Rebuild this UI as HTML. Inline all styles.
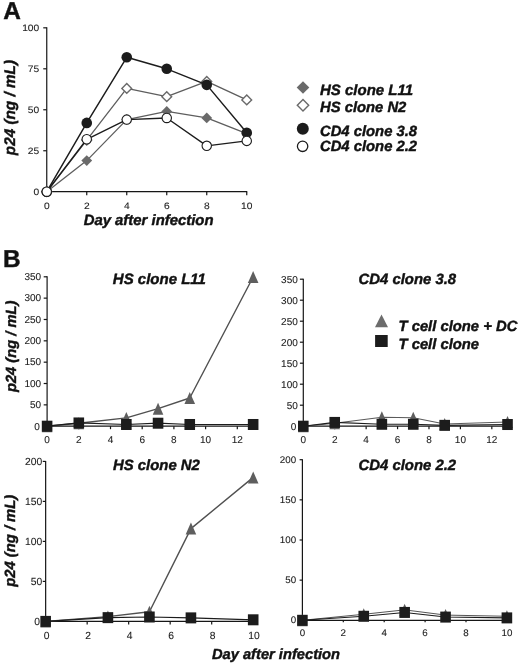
<!DOCTYPE html>
<html>
<head>
<meta charset="utf-8">
<title>Figure</title>
<style>
html,body{margin:0;padding:0;background:#fff;}
body{width:520px;height:664px;overflow:hidden;font-family:'Liberation Sans', sans-serif;}
svg{display:block;opacity:0.999;will-change:transform;text-rendering:geometricPrecision;font-family:'Liberation Sans', sans-serif;}
</style>
</head>
<body>
<svg width="520" height="664" viewBox="0 0 520 664">
<rect width="520" height="664" fill="#ffffff"/>
<text x="3.2" y="19.3" font-size="24.4" text-anchor="start" font-weight="bold" font-style="normal" fill="#111"  stroke="#111" stroke-width="0.42">A</text>
<line x1="46.75" y1="27.32" x2="46.75" y2="192.22" stroke="#161616" stroke-width="1.2"/>
<line x1="46.25" y1="191.72" x2="247.25" y2="191.72" stroke="#161616" stroke-width="1.2"/>
<line x1="43.25" y1="191.72" x2="46.75" y2="191.72" stroke="#161616" stroke-width="1.2"/>
<text transform="translate(39.25,195.22) scale(1.09,1)" font-size="9.4" text-anchor="end" font-weight="normal" font-style="normal" fill="#222"  stroke="#222" stroke-width="0.1">0</text>
<line x1="43.25" y1="150.75" x2="46.75" y2="150.75" stroke="#161616" stroke-width="1.2"/>
<text transform="translate(39.25,154.25) scale(1.09,1)" font-size="9.4" text-anchor="end" font-weight="normal" font-style="normal" fill="#222"  stroke="#222" stroke-width="0.1">25</text>
<line x1="43.25" y1="109.77" x2="46.75" y2="109.77" stroke="#161616" stroke-width="1.2"/>
<text transform="translate(39.25,113.27) scale(1.09,1)" font-size="9.4" text-anchor="end" font-weight="normal" font-style="normal" fill="#222"  stroke="#222" stroke-width="0.1">50</text>
<line x1="43.25" y1="68.8" x2="46.75" y2="68.8" stroke="#161616" stroke-width="1.2"/>
<text transform="translate(39.25,72.3) scale(1.09,1)" font-size="9.4" text-anchor="end" font-weight="normal" font-style="normal" fill="#222"  stroke="#222" stroke-width="0.1">75</text>
<line x1="43.25" y1="27.82" x2="46.75" y2="27.82" stroke="#161616" stroke-width="1.2"/>
<text transform="translate(39.25,31.32) scale(1.09,1)" font-size="9.4" text-anchor="end" font-weight="normal" font-style="normal" fill="#222"  stroke="#222" stroke-width="0.1">100</text>
<line x1="46.75" y1="191.72" x2="46.75" y2="195.22" stroke="#161616" stroke-width="1.2"/>
<text transform="translate(46.75,208.9) scale(1.09,1)" font-size="9.4" text-anchor="middle" font-weight="normal" font-style="normal" fill="#222"  stroke="#222" stroke-width="0.1">0</text>
<line x1="86.75" y1="191.72" x2="86.75" y2="195.22" stroke="#161616" stroke-width="1.2"/>
<text transform="translate(86.75,208.9) scale(1.09,1)" font-size="9.4" text-anchor="middle" font-weight="normal" font-style="normal" fill="#222"  stroke="#222" stroke-width="0.1">2</text>
<line x1="126.75" y1="191.72" x2="126.75" y2="195.22" stroke="#161616" stroke-width="1.2"/>
<text transform="translate(126.75,208.9) scale(1.09,1)" font-size="9.4" text-anchor="middle" font-weight="normal" font-style="normal" fill="#222"  stroke="#222" stroke-width="0.1">4</text>
<line x1="166.75" y1="191.72" x2="166.75" y2="195.22" stroke="#161616" stroke-width="1.2"/>
<text transform="translate(166.75,208.9) scale(1.09,1)" font-size="9.4" text-anchor="middle" font-weight="normal" font-style="normal" fill="#222"  stroke="#222" stroke-width="0.1">6</text>
<line x1="206.75" y1="191.72" x2="206.75" y2="195.22" stroke="#161616" stroke-width="1.2"/>
<text transform="translate(206.75,208.9) scale(1.09,1)" font-size="9.4" text-anchor="middle" font-weight="normal" font-style="normal" fill="#222"  stroke="#222" stroke-width="0.1">8</text>
<line x1="246.75" y1="191.72" x2="246.75" y2="195.22" stroke="#161616" stroke-width="1.2"/>
<text transform="translate(246.75,208.9) scale(1.09,1)" font-size="9.4" text-anchor="middle" font-weight="normal" font-style="normal" fill="#222"  stroke="#222" stroke-width="0.1">10</text>
<text x="148.6" y="225.2" font-size="14.9" text-anchor="middle" font-weight="bold" font-style="italic" fill="#111"  stroke="#111" stroke-width="0.42">Day after infection</text>
<text transform="translate(15.3,107.6) rotate(-90)" font-size="15.3" text-anchor="middle" font-weight="bold" font-style="italic" fill="#111" stroke="#111" stroke-width="0.42">p24 (ng / mL)</text>
<polyline fill="none" stroke="#5e5e5e" stroke-width="1.3" stroke-linejoin="round" points="46.75,191.72 86.75,160.58 126.75,119.6 166.75,111.41 206.75,117.97 246.75,133.54"/>
<polygon points="46.75,186.32 52.15,191.72 46.75,197.12 41.35,191.72" fill="#6a6a6a"/>
<polygon points="86.75,155.18 92.15,160.58 86.75,165.98 81.35,160.58" fill="#6a6a6a"/>
<polygon points="126.75,114.2 132.15,119.6 126.75,125 121.35,119.6" fill="#6a6a6a"/>
<polygon points="166.75,106.01 172.15,111.41 166.75,116.81 161.35,111.41" fill="#6a6a6a"/>
<polygon points="206.75,112.56 212.15,117.97 206.75,123.37 201.35,117.97" fill="#6a6a6a"/>
<polygon points="246.75,128.14 252.15,133.54 246.75,138.94 241.35,133.54" fill="#6a6a6a"/>
<polyline fill="none" stroke="#5e5e5e" stroke-width="1.3" stroke-linejoin="round" points="46.75,191.72 86.75,140.09 126.75,88.46 166.75,96.66 206.75,81.42 246.75,99.94"/>
<polygon points="46.75,186.82 51.65,191.72 46.75,196.62 41.85,191.72" fill="#fff" stroke="#6a6a6a" stroke-width="1.4"/>
<polygon points="86.75,135.19 91.65,140.09 86.75,144.99 81.85,140.09" fill="#fff" stroke="#6a6a6a" stroke-width="1.4"/>
<polygon points="126.75,83.56 131.65,88.46 126.75,93.36 121.85,88.46" fill="#fff" stroke="#6a6a6a" stroke-width="1.4"/>
<polygon points="166.75,91.76 171.65,96.66 166.75,101.56 161.85,96.66" fill="#fff" stroke="#6a6a6a" stroke-width="1.4"/>
<polygon points="206.75,76.52 211.65,81.42 206.75,86.32 201.85,81.42" fill="#fff" stroke="#6a6a6a" stroke-width="1.4"/>
<polygon points="246.75,95.04 251.65,99.94 246.75,104.84 241.85,99.94" fill="#fff" stroke="#6a6a6a" stroke-width="1.4"/>
<polyline fill="none" stroke="#1c1c1c" stroke-width="1.45" stroke-linejoin="round" points="46.75,191.72 86.75,122.88 126.75,57.32 166.75,68.8 206.75,84.86 246.75,132.72"/>
<circle cx="46.75" cy="191.72" r="5.3" fill="#1c1c1c"/>
<circle cx="86.75" cy="122.88" r="5.3" fill="#1c1c1c"/>
<circle cx="126.75" cy="57.32" r="5.3" fill="#1c1c1c"/>
<circle cx="166.75" cy="68.8" r="5.3" fill="#1c1c1c"/>
<circle cx="206.75" cy="84.86" r="5.3" fill="#1c1c1c"/>
<circle cx="246.75" cy="132.72" r="5.3" fill="#1c1c1c"/>
<polyline fill="none" stroke="#1c1c1c" stroke-width="1.35" stroke-linejoin="round" points="46.75,191.72 86.75,139.27 126.75,119.6 166.75,117.97 206.75,145.83 246.75,140.91"/>
<circle cx="46.75" cy="191.72" r="4.7" fill="#fff" stroke="#1c1c1c" stroke-width="1.1"/>
<circle cx="86.75" cy="139.27" r="4.7" fill="#fff" stroke="#1c1c1c" stroke-width="1.1"/>
<circle cx="126.75" cy="119.6" r="4.7" fill="#fff" stroke="#1c1c1c" stroke-width="1.1"/>
<circle cx="166.75" cy="117.97" r="4.7" fill="#fff" stroke="#1c1c1c" stroke-width="1.1"/>
<circle cx="206.75" cy="145.83" r="4.7" fill="#fff" stroke="#1c1c1c" stroke-width="1.1"/>
<circle cx="246.75" cy="140.91" r="4.7" fill="#fff" stroke="#1c1c1c" stroke-width="1.1"/>
<polygon points="303,81.2 309.3,87.5 303,93.8 296.7,87.5" fill="#6a6a6a"/>
<polygon points="303,99.5 308.7,105.2 303,110.9 297.3,105.2" fill="#fff" stroke="#6a6a6a" stroke-width="1.4"/>
<circle cx="302.8" cy="128.8" r="6.0" fill="#1c1c1c"/>
<circle cx="302.6" cy="146.3" r="5.2" fill="#fff" stroke="#1c1c1c" stroke-width="1.3"/>
<text x="320" y="95.1" font-size="15.0" text-anchor="start" font-weight="bold" font-style="italic" fill="#111"  stroke="#111" stroke-width="0.42">HS clone L11</text>
<text x="320" y="112" font-size="14.8" text-anchor="start" font-weight="bold" font-style="italic" fill="#111"  stroke="#111" stroke-width="0.42">HS clone N2</text>
<text x="320" y="136.3" font-size="14.8" text-anchor="start" font-weight="bold" font-style="italic" fill="#111"  stroke="#111" stroke-width="0.42">CD4 clone 3.8</text>
<text x="320" y="151.1" font-size="14.8" text-anchor="start" font-weight="bold" font-style="italic" fill="#111"  stroke="#111" stroke-width="0.42">CD4 clone 2.2</text>
<text x="3" y="267" font-size="24.4" text-anchor="start" font-weight="bold" font-style="normal" fill="#111"  stroke="#111" stroke-width="0.42">B</text>
<line x1="47.1" y1="276.3" x2="47.1" y2="426.7" stroke="#161616" stroke-width="1.2"/>
<line x1="46.6" y1="426.2" x2="253.65" y2="426.2" stroke="#161616" stroke-width="1.2"/>
<line x1="43.7" y1="426.2" x2="47.1" y2="426.2" stroke="#161616" stroke-width="1.2"/>
<text x="39.7" y="429.5" font-size="10.0" text-anchor="end" font-weight="normal" font-style="normal" fill="#222"  stroke="#222" stroke-width="0.1">0</text>
<line x1="43.7" y1="404.86" x2="47.1" y2="404.86" stroke="#161616" stroke-width="1.2"/>
<text x="41.1" y="408.16" font-size="10.0" text-anchor="end" font-weight="normal" font-style="normal" fill="#222"  stroke="#222" stroke-width="0.1">50</text>
<line x1="43.7" y1="383.51" x2="47.1" y2="383.51" stroke="#161616" stroke-width="1.2"/>
<text x="41.1" y="386.81" font-size="10.0" text-anchor="end" font-weight="normal" font-style="normal" fill="#222"  stroke="#222" stroke-width="0.1">100</text>
<line x1="43.7" y1="362.17" x2="47.1" y2="362.17" stroke="#161616" stroke-width="1.2"/>
<text x="41.1" y="365.47" font-size="10.0" text-anchor="end" font-weight="normal" font-style="normal" fill="#222"  stroke="#222" stroke-width="0.1">150</text>
<line x1="43.7" y1="340.83" x2="47.1" y2="340.83" stroke="#161616" stroke-width="1.2"/>
<text x="41.1" y="344.13" font-size="10.0" text-anchor="end" font-weight="normal" font-style="normal" fill="#222"  stroke="#222" stroke-width="0.1">200</text>
<line x1="43.7" y1="319.49" x2="47.1" y2="319.49" stroke="#161616" stroke-width="1.2"/>
<text x="41.1" y="322.79" font-size="10.0" text-anchor="end" font-weight="normal" font-style="normal" fill="#222"  stroke="#222" stroke-width="0.1">250</text>
<line x1="43.7" y1="298.14" x2="47.1" y2="298.14" stroke="#161616" stroke-width="1.2"/>
<text x="41.1" y="301.44" font-size="10.0" text-anchor="end" font-weight="normal" font-style="normal" fill="#222"  stroke="#222" stroke-width="0.1">300</text>
<line x1="43.7" y1="276.8" x2="47.1" y2="276.8" stroke="#161616" stroke-width="1.2"/>
<text x="41.1" y="280.1" font-size="10.0" text-anchor="end" font-weight="normal" font-style="normal" fill="#222"  stroke="#222" stroke-width="0.1">350</text>
<line x1="47.1" y1="426.2" x2="47.1" y2="429.2" stroke="#161616" stroke-width="1.2"/>
<text x="47.1" y="443" font-size="10.0" text-anchor="middle" font-weight="normal" font-style="normal" fill="#222"  stroke="#222" stroke-width="0.1">0</text>
<line x1="78.8" y1="426.2" x2="78.8" y2="429.2" stroke="#161616" stroke-width="1.2"/>
<text x="78.8" y="443" font-size="10.0" text-anchor="middle" font-weight="normal" font-style="normal" fill="#222"  stroke="#222" stroke-width="0.1">2</text>
<line x1="110.5" y1="426.2" x2="110.5" y2="429.2" stroke="#161616" stroke-width="1.2"/>
<text x="110.5" y="443" font-size="10.0" text-anchor="middle" font-weight="normal" font-style="normal" fill="#222"  stroke="#222" stroke-width="0.1">4</text>
<line x1="142.2" y1="426.2" x2="142.2" y2="429.2" stroke="#161616" stroke-width="1.2"/>
<text x="142.2" y="443" font-size="10.0" text-anchor="middle" font-weight="normal" font-style="normal" fill="#222"  stroke="#222" stroke-width="0.1">6</text>
<line x1="173.9" y1="426.2" x2="173.9" y2="429.2" stroke="#161616" stroke-width="1.2"/>
<text x="173.9" y="443" font-size="10.0" text-anchor="middle" font-weight="normal" font-style="normal" fill="#222"  stroke="#222" stroke-width="0.1">8</text>
<line x1="205.6" y1="426.2" x2="205.6" y2="429.2" stroke="#161616" stroke-width="1.2"/>
<text x="205.6" y="443" font-size="10.0" text-anchor="middle" font-weight="normal" font-style="normal" fill="#222"  stroke="#222" stroke-width="0.1">10</text>
<line x1="237.3" y1="426.2" x2="237.3" y2="429.2" stroke="#161616" stroke-width="1.2"/>
<text x="237.3" y="443" font-size="10.0" text-anchor="middle" font-weight="normal" font-style="normal" fill="#222"  stroke="#222" stroke-width="0.1">12</text>
<text x="112.8" y="283.8" font-size="15.0" text-anchor="start" font-weight="bold" font-style="italic" fill="#111"  stroke="#111" stroke-width="0.42">HS clone L11</text>
<polyline fill="none" stroke="#505050" stroke-width="1.4" stroke-linejoin="round" points="47.1,426.2 78.8,423.21 126.35,417.88 158.05,408.7 189.75,398.03 253.15,277.01"/>
<polygon points="47.1,420.2 52.4,432.2 41.8,432.2" fill="#5e5e5e"/>
<polygon points="78.8,417.21 84.1,429.21 73.5,429.21" fill="#5e5e5e"/>
<polygon points="126.35,411.88 131.65,423.88 121.05,423.88" fill="#5e5e5e"/>
<polygon points="158.05,402.7 163.35,414.7 152.75,414.7" fill="#5e5e5e"/>
<polygon points="189.75,392.03 195.05,404.03 184.45,404.03" fill="#5e5e5e"/>
<polygon points="253.15,271.01 258.45,283.01 247.85,283.01" fill="#5e5e5e"/>
<polyline fill="none" stroke="#1c1c1c" stroke-width="1.2" stroke-linejoin="round" points="47.1,426.2 78.8,422.96 126.35,424.49 158.05,423.21 189.75,424.49 253.15,424.49"/>
<rect x="41.8" y="420.7" width="10.6" height="11" fill="#1c1c1c"/>
<rect x="73.5" y="417.46" width="10.6" height="11" fill="#1c1c1c"/>
<rect x="121.05" y="418.99" width="10.6" height="11" fill="#1c1c1c"/>
<rect x="152.75" y="417.71" width="10.6" height="11" fill="#1c1c1c"/>
<rect x="184.45" y="418.99" width="10.6" height="11" fill="#1c1c1c"/>
<rect x="247.85" y="418.99" width="10.6" height="11" fill="#1c1c1c"/>
<line x1="303.3" y1="278.7" x2="303.3" y2="426.7" stroke="#161616" stroke-width="1.2"/>
<line x1="302.8" y1="426.2" x2="508.03" y2="426.2" stroke="#161616" stroke-width="1.2"/>
<line x1="299.9" y1="426.2" x2="303.3" y2="426.2" stroke="#161616" stroke-width="1.2"/>
<text x="296.4" y="429.7" font-size="10.0" text-anchor="end" font-weight="normal" font-style="normal" fill="#222"  stroke="#222" stroke-width="0.1">0</text>
<line x1="299.9" y1="405.2" x2="303.3" y2="405.2" stroke="#161616" stroke-width="1.2"/>
<text x="297.8" y="408.7" font-size="10.0" text-anchor="end" font-weight="normal" font-style="normal" fill="#222"  stroke="#222" stroke-width="0.1">50</text>
<line x1="299.9" y1="384.2" x2="303.3" y2="384.2" stroke="#161616" stroke-width="1.2"/>
<text x="297.8" y="387.7" font-size="10.0" text-anchor="end" font-weight="normal" font-style="normal" fill="#222"  stroke="#222" stroke-width="0.1">100</text>
<line x1="299.9" y1="363.2" x2="303.3" y2="363.2" stroke="#161616" stroke-width="1.2"/>
<text x="297.8" y="366.7" font-size="10.0" text-anchor="end" font-weight="normal" font-style="normal" fill="#222"  stroke="#222" stroke-width="0.1">150</text>
<line x1="299.9" y1="342.2" x2="303.3" y2="342.2" stroke="#161616" stroke-width="1.2"/>
<text x="297.8" y="345.7" font-size="10.0" text-anchor="end" font-weight="normal" font-style="normal" fill="#222"  stroke="#222" stroke-width="0.1">200</text>
<line x1="299.9" y1="321.2" x2="303.3" y2="321.2" stroke="#161616" stroke-width="1.2"/>
<text x="297.8" y="324.7" font-size="10.0" text-anchor="end" font-weight="normal" font-style="normal" fill="#222"  stroke="#222" stroke-width="0.1">250</text>
<line x1="299.9" y1="300.2" x2="303.3" y2="300.2" stroke="#161616" stroke-width="1.2"/>
<text x="297.8" y="303.7" font-size="10.0" text-anchor="end" font-weight="normal" font-style="normal" fill="#222"  stroke="#222" stroke-width="0.1">300</text>
<line x1="299.9" y1="279.2" x2="303.3" y2="279.2" stroke="#161616" stroke-width="1.2"/>
<text x="297.8" y="282.7" font-size="10.0" text-anchor="end" font-weight="normal" font-style="normal" fill="#222"  stroke="#222" stroke-width="0.1">350</text>
<line x1="303.3" y1="426.2" x2="303.3" y2="429.2" stroke="#161616" stroke-width="1.2"/>
<text x="303.3" y="442.8" font-size="10.0" text-anchor="middle" font-weight="normal" font-style="normal" fill="#222"  stroke="#222" stroke-width="0.1">0</text>
<line x1="334.72" y1="426.2" x2="334.72" y2="429.2" stroke="#161616" stroke-width="1.2"/>
<text x="334.72" y="442.8" font-size="10.0" text-anchor="middle" font-weight="normal" font-style="normal" fill="#222"  stroke="#222" stroke-width="0.1">2</text>
<line x1="366.14" y1="426.2" x2="366.14" y2="429.2" stroke="#161616" stroke-width="1.2"/>
<text x="366.14" y="442.8" font-size="10.0" text-anchor="middle" font-weight="normal" font-style="normal" fill="#222"  stroke="#222" stroke-width="0.1">4</text>
<line x1="397.56" y1="426.2" x2="397.56" y2="429.2" stroke="#161616" stroke-width="1.2"/>
<text x="397.56" y="442.8" font-size="10.0" text-anchor="middle" font-weight="normal" font-style="normal" fill="#222"  stroke="#222" stroke-width="0.1">6</text>
<line x1="428.98" y1="426.2" x2="428.98" y2="429.2" stroke="#161616" stroke-width="1.2"/>
<text x="428.98" y="442.8" font-size="10.0" text-anchor="middle" font-weight="normal" font-style="normal" fill="#222"  stroke="#222" stroke-width="0.1">8</text>
<line x1="460.4" y1="426.2" x2="460.4" y2="429.2" stroke="#161616" stroke-width="1.2"/>
<text x="460.4" y="442.8" font-size="10.0" text-anchor="middle" font-weight="normal" font-style="normal" fill="#222"  stroke="#222" stroke-width="0.1">10</text>
<line x1="491.82" y1="426.2" x2="491.82" y2="429.2" stroke="#161616" stroke-width="1.2"/>
<text x="491.82" y="442.8" font-size="10.0" text-anchor="middle" font-weight="normal" font-style="normal" fill="#222"  stroke="#222" stroke-width="0.1">12</text>
<text x="358.5" y="283.6" font-size="14.9" text-anchor="start" font-weight="bold" font-style="italic" fill="#111"  stroke="#111" stroke-width="0.42">CD4 clone 3.8</text>
<polyline fill="none" stroke="#5a5a5a" stroke-width="1.05" stroke-linejoin="round" points="303.3,426.2 334.72,423.26 381.85,417.17 413.27,417.8 444.69,424.1 507.53,422"/>
<polygon points="303.3,420.2 308.6,432.2 298,432.2" fill="#5e5e5e"/>
<polygon points="334.72,417.26 340.02,429.26 329.42,429.26" fill="#5e5e5e"/>
<polygon points="381.85,411.17 387.15,423.17 376.55,423.17" fill="#5e5e5e"/>
<polygon points="413.27,411.8 418.57,423.8 407.97,423.8" fill="#5e5e5e"/>
<polygon points="444.69,418.1 449.99,430.1 439.39,430.1" fill="#5e5e5e"/>
<polygon points="507.53,416 512.83,428 502.23,428" fill="#5e5e5e"/>
<polyline fill="none" stroke="#1c1c1c" stroke-width="1.1" stroke-linejoin="round" points="303.3,426.2 334.72,422.42 381.85,424.27 413.27,424.27 444.69,425.36 507.53,424.52"/>
<rect x="298" y="420.7" width="10.6" height="11" fill="#1c1c1c"/>
<rect x="329.42" y="416.92" width="10.6" height="11" fill="#1c1c1c"/>
<rect x="376.55" y="418.77" width="10.6" height="11" fill="#1c1c1c"/>
<rect x="407.97" y="418.77" width="10.6" height="11" fill="#1c1c1c"/>
<rect x="439.39" y="419.86" width="10.6" height="11" fill="#1c1c1c"/>
<rect x="502.23" y="419.02" width="10.6" height="11" fill="#1c1c1c"/>
<line x1="45.65" y1="460.9" x2="45.65" y2="621.9" stroke="#161616" stroke-width="1.2"/>
<line x1="45.15" y1="621.4" x2="253.7" y2="621.4" stroke="#161616" stroke-width="1.2"/>
<line x1="42.75" y1="621.4" x2="45.65" y2="621.4" stroke="#161616" stroke-width="1.2"/>
<text x="40.05" y="625" font-size="10.3" text-anchor="end" font-weight="normal" font-style="normal" fill="#222"  stroke="#222" stroke-width="0.1">0</text>
<line x1="42.75" y1="581.4" x2="45.65" y2="581.4" stroke="#161616" stroke-width="1.2"/>
<text x="42.25" y="585" font-size="10.3" text-anchor="end" font-weight="normal" font-style="normal" fill="#222"  stroke="#222" stroke-width="0.1">50</text>
<line x1="42.75" y1="541.4" x2="45.65" y2="541.4" stroke="#161616" stroke-width="1.2"/>
<text x="42.25" y="545" font-size="10.3" text-anchor="end" font-weight="normal" font-style="normal" fill="#222"  stroke="#222" stroke-width="0.1">100</text>
<line x1="42.75" y1="501.4" x2="45.65" y2="501.4" stroke="#161616" stroke-width="1.2"/>
<text x="42.25" y="505" font-size="10.3" text-anchor="end" font-weight="normal" font-style="normal" fill="#222"  stroke="#222" stroke-width="0.1">150</text>
<line x1="42.75" y1="461.4" x2="45.65" y2="461.4" stroke="#161616" stroke-width="1.2"/>
<text x="42.25" y="465" font-size="10.3" text-anchor="end" font-weight="normal" font-style="normal" fill="#222"  stroke="#222" stroke-width="0.1">200</text>
<line x1="45.65" y1="621.4" x2="45.65" y2="624.4" stroke="#161616" stroke-width="1.2"/>
<text x="46.55" y="638.6" font-size="10.3" text-anchor="middle" font-weight="normal" font-style="normal" fill="#222"  stroke="#222" stroke-width="0.1">0</text>
<line x1="87.16" y1="621.4" x2="87.16" y2="624.4" stroke="#161616" stroke-width="1.2"/>
<text x="88.06" y="638.6" font-size="10.3" text-anchor="middle" font-weight="normal" font-style="normal" fill="#222"  stroke="#222" stroke-width="0.1">2</text>
<line x1="128.67" y1="621.4" x2="128.67" y2="624.4" stroke="#161616" stroke-width="1.2"/>
<text x="129.57" y="638.6" font-size="10.3" text-anchor="middle" font-weight="normal" font-style="normal" fill="#222"  stroke="#222" stroke-width="0.1">4</text>
<line x1="170.18" y1="621.4" x2="170.18" y2="624.4" stroke="#161616" stroke-width="1.2"/>
<text x="171.08" y="638.6" font-size="10.3" text-anchor="middle" font-weight="normal" font-style="normal" fill="#222"  stroke="#222" stroke-width="0.1">6</text>
<line x1="211.69" y1="621.4" x2="211.69" y2="624.4" stroke="#161616" stroke-width="1.2"/>
<text x="212.59" y="638.6" font-size="10.3" text-anchor="middle" font-weight="normal" font-style="normal" fill="#222"  stroke="#222" stroke-width="0.1">8</text>
<line x1="253.2" y1="621.4" x2="253.2" y2="624.4" stroke="#161616" stroke-width="1.2"/>
<text x="254.1" y="638.6" font-size="10.3" text-anchor="middle" font-weight="normal" font-style="normal" fill="#222"  stroke="#222" stroke-width="0.1">10</text>
<text x="113" y="469.8" font-size="14.9" text-anchor="start" font-weight="bold" font-style="italic" fill="#111"  stroke="#111" stroke-width="0.42">HS clone N2</text>
<polyline fill="none" stroke="#505050" stroke-width="1.4" stroke-linejoin="round" points="45.65,621.4 107.91,616.6 149.42,611.8 190.94,528.6 253.2,477.4"/>
<polygon points="45.65,615.4 50.95,627.4 40.35,627.4" fill="#5e5e5e"/>
<polygon points="107.91,610.6 113.21,622.6 102.61,622.6" fill="#5e5e5e"/>
<polygon points="149.42,605.8 154.72,617.8 144.12,617.8" fill="#5e5e5e"/>
<polygon points="190.94,522.6 196.24,534.6 185.63,534.6" fill="#5e5e5e"/>
<polygon points="253.2,471.4 258.5,483.4 247.9,483.4" fill="#5e5e5e"/>
<polyline fill="none" stroke="#1c1c1c" stroke-width="1.2" stroke-linejoin="round" points="45.65,621.4 107.91,617.64 149.42,617 190.94,617.88 253.2,619.8"/>
<rect x="40.35" y="615.9" width="10.6" height="11" fill="#1c1c1c"/>
<rect x="102.61" y="612.14" width="10.6" height="11" fill="#1c1c1c"/>
<rect x="144.12" y="611.5" width="10.6" height="11" fill="#1c1c1c"/>
<rect x="185.63" y="612.38" width="10.6" height="11" fill="#1c1c1c"/>
<rect x="247.9" y="614.3" width="10.6" height="11" fill="#1c1c1c"/>
<line x1="302.4" y1="459.2" x2="302.4" y2="620.8" stroke="#161616" stroke-width="1.2"/>
<line x1="301.9" y1="620.3" x2="507.4" y2="620.3" stroke="#161616" stroke-width="1.2"/>
<line x1="299.6" y1="620.3" x2="302.4" y2="620.3" stroke="#161616" stroke-width="1.2"/>
<text transform="translate(296.1,623.3) scale(1.02,1)" font-size="9.6" text-anchor="end" font-weight="normal" font-style="normal" fill="#222"  stroke="#222" stroke-width="0.1">0</text>
<line x1="299.6" y1="580.15" x2="302.4" y2="580.15" stroke="#161616" stroke-width="1.2"/>
<text transform="translate(296.1,583.15) scale(1.02,1)" font-size="9.6" text-anchor="end" font-weight="normal" font-style="normal" fill="#222"  stroke="#222" stroke-width="0.1">50</text>
<line x1="299.6" y1="540" x2="302.4" y2="540" stroke="#161616" stroke-width="1.2"/>
<text transform="translate(296.1,543) scale(1.02,1)" font-size="9.6" text-anchor="end" font-weight="normal" font-style="normal" fill="#222"  stroke="#222" stroke-width="0.1">100</text>
<line x1="299.6" y1="499.85" x2="302.4" y2="499.85" stroke="#161616" stroke-width="1.2"/>
<text transform="translate(296.1,502.85) scale(1.02,1)" font-size="9.6" text-anchor="end" font-weight="normal" font-style="normal" fill="#222"  stroke="#222" stroke-width="0.1">150</text>
<line x1="299.6" y1="459.7" x2="302.4" y2="459.7" stroke="#161616" stroke-width="1.2"/>
<text transform="translate(296.1,462.7) scale(1.02,1)" font-size="9.6" text-anchor="end" font-weight="normal" font-style="normal" fill="#222"  stroke="#222" stroke-width="0.1">200</text>
<line x1="302.4" y1="620.3" x2="302.4" y2="622.3" stroke="#161616" stroke-width="1.2"/>
<text transform="translate(302.4,636.2) scale(1.02,1)" font-size="9.6" text-anchor="middle" font-weight="normal" font-style="normal" fill="#222"  stroke="#222" stroke-width="0.1">0</text>
<line x1="343.3" y1="620.3" x2="343.3" y2="622.3" stroke="#161616" stroke-width="1.2"/>
<text transform="translate(343.3,636.2) scale(1.02,1)" font-size="9.6" text-anchor="middle" font-weight="normal" font-style="normal" fill="#222"  stroke="#222" stroke-width="0.1">2</text>
<line x1="384.2" y1="620.3" x2="384.2" y2="622.3" stroke="#161616" stroke-width="1.2"/>
<text transform="translate(384.2,636.2) scale(1.02,1)" font-size="9.6" text-anchor="middle" font-weight="normal" font-style="normal" fill="#222"  stroke="#222" stroke-width="0.1">4</text>
<line x1="425.1" y1="620.3" x2="425.1" y2="622.3" stroke="#161616" stroke-width="1.2"/>
<text transform="translate(425.1,636.2) scale(1.02,1)" font-size="9.6" text-anchor="middle" font-weight="normal" font-style="normal" fill="#222"  stroke="#222" stroke-width="0.1">6</text>
<line x1="466" y1="620.3" x2="466" y2="622.3" stroke="#161616" stroke-width="1.2"/>
<text transform="translate(466,636.2) scale(1.02,1)" font-size="9.6" text-anchor="middle" font-weight="normal" font-style="normal" fill="#222"  stroke="#222" stroke-width="0.1">8</text>
<line x1="506.9" y1="620.3" x2="506.9" y2="622.3" stroke="#161616" stroke-width="1.2"/>
<text transform="translate(506.9,636.2) scale(1.02,1)" font-size="9.6" text-anchor="middle" font-weight="normal" font-style="normal" fill="#222"  stroke="#222" stroke-width="0.1">10</text>
<text x="358.5" y="469.8" font-size="14.9" text-anchor="start" font-weight="bold" font-style="italic" fill="#111"  stroke="#111" stroke-width="0.42">CD4 clone 2.2</text>
<polyline fill="none" stroke="#555" stroke-width="1.0" stroke-linejoin="round" points="302.4,620.3 363.75,614.28 404.65,609.86 445.55,615.08 506.9,616.28"/>
<polygon points="302.4,614.3 307.7,626.3 297.1,626.3" fill="#5e5e5e"/>
<polygon points="363.75,608.28 369.05,620.28 358.45,620.28" fill="#5e5e5e"/>
<polygon points="404.65,603.86 409.95,615.86 399.35,615.86" fill="#5e5e5e"/>
<polygon points="445.55,609.08 450.85,621.08 440.25,621.08" fill="#5e5e5e"/>
<polygon points="506.9,610.28 512.2,622.28 501.6,622.28" fill="#5e5e5e"/>
<polyline fill="none" stroke="#1c1c1c" stroke-width="1.05" stroke-linejoin="round" points="302.4,620.3 363.75,616.28 404.65,612.43 445.55,617.09 506.9,617.89"/>
<rect x="297.1" y="614.8" width="10.6" height="11" fill="#1c1c1c"/>
<rect x="358.45" y="610.78" width="10.6" height="11" fill="#1c1c1c"/>
<rect x="399.35" y="606.93" width="10.6" height="11" fill="#1c1c1c"/>
<rect x="440.25" y="611.59" width="10.6" height="11" fill="#1c1c1c"/>
<rect x="501.6" y="612.39" width="10.6" height="11" fill="#1c1c1c"/>
<polygon points="381.5,314.5 388,327.3 375,327.3" fill="#6c6c6c"/>
<rect x="375.1" y="335" width="12.6" height="12" fill="#1c1c1c"/>
<text x="398.5" y="330.9" font-size="14.8" text-anchor="start" font-weight="bold" font-style="italic" fill="#111"  stroke="#111" stroke-width="0.42">T cell clone + DC</text>
<text x="398.5" y="348.8" font-size="14.8" text-anchor="start" font-weight="bold" font-style="italic" fill="#111"  stroke="#111" stroke-width="0.42">T cell clone</text>
<text transform="translate(15.6,346.4) rotate(-90)" font-size="14.7" text-anchor="middle" font-weight="bold" font-style="italic" fill="#111" stroke="#111" stroke-width="0.42">p24 (ng / mL)</text>
<text transform="translate(15.3,540.8) rotate(-90)" font-size="14.8" text-anchor="middle" font-weight="bold" font-style="italic" fill="#111" stroke="#111" stroke-width="0.42">p24 (ng / mL)</text>
<text x="276" y="658.6" font-size="14.7" text-anchor="middle" font-weight="bold" font-style="italic" fill="#111"  stroke="#111" stroke-width="0.42">Day after infection</text>
</svg>
</body>
</html>
